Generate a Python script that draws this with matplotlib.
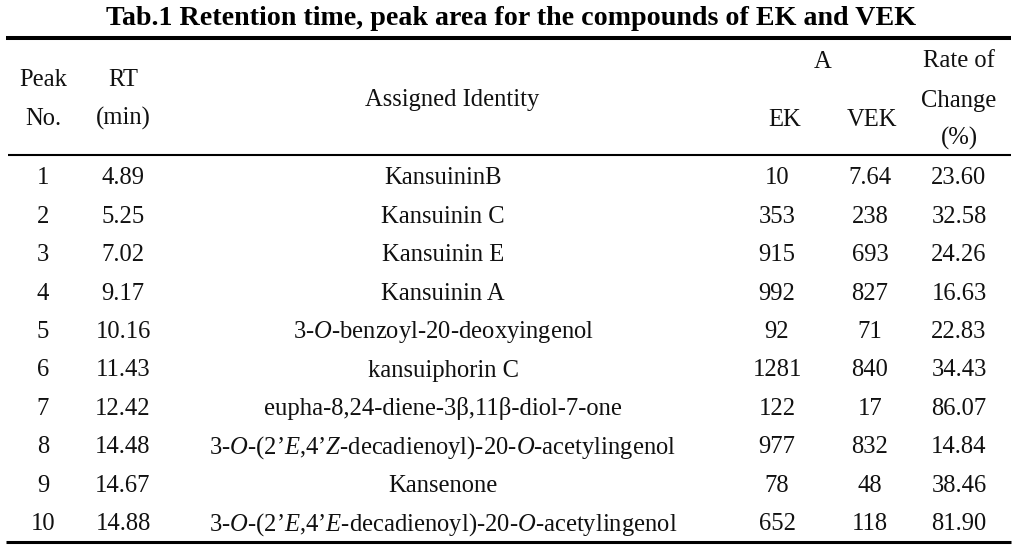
import matplotlib
matplotlib.use("Agg")
import matplotlib.pyplot as plt

plt.rcParams['font.family'] = ['Liberation Serif', 'DejaVu Serif']
plt.rcParams['mathtext.fontset'] = 'custom'
plt.rcParams['mathtext.rm'] = 'Liberation Serif'
plt.rcParams['mathtext.it'] = 'Liberation Serif:italic'

title = "Tab.1 Retention time, peak area for the compounds of EK and VEK"
peak_no = ["1", "2", "3", "4", "5", "6", "7", "8", "9", "10"]
rt = ["4.89", "5.25", "7.02", "9.17", "10.16", "11.43", "12.42", "14.48", "14.67", "14.88"]
identity = [
    "KansuininB",
    "Kansuinin C",
    "Kansuinin E",
    "Kansuinin A",
    r"3-$\mathit{O}$-benzoyl-20-deoxyingenol",
    "kansuiphorin C",
    "eupha-8,24-diene-3β,11β-diol-7-one",
    r"3-$\mathit{O}$-(2’$\mathit{E}$,4’$\mathit{Z}$-decadienoyl)-20-$\mathit{O}$-acetylingenol",
    "Kansenone",
    r"3-$\mathit{O}$-(2’$\mathit{E}$,4’$\mathit{E}$-decadienoyl)-20-$\mathit{O}$-acetylingenol",
]
area_ek = ["10", "353", "915", "992", "92", "1281", "122", "977", "78", "652"]
area_vek = ["7.64", "238", "693", "827", "71", "840", "17", "832", "48", "118"]
rate = ["23.60", "32.58", "24.26", "16.63", "22.83", "34.43", "86.07", "14.84", "38.46", "81.90"]

W, H = 1036, 552
fig = plt.figure(figsize=(W / 100, H / 100), dpi=100)
ax = fig.add_axes([0, 0, 1, 1])
ax.set_xlim(0, W)
ax.set_ylim(H, 0)
ax.axis('off')

# column centres (px) for body rows
col_x = [43, 123, 443, 777, 870, 959]
fs = 17.7
tc = '#111111'

ax.text(511.5, 25, title, ha='center', va='baseline', fontsize=20.2,
        fontweight='bold', color='black')

# rules
ax.plot([6, 1011], [38, 38], color='black', lw=2.9, solid_capstyle='butt')
ax.plot([8, 1011], [155, 155], color='black', lw=1.5, solid_capstyle='butt')
ax.plot([6, 1011], [542, 542], color='black', lw=2.2, solid_capstyle='butt')

# header
hdr = dict(ha='center', va='baseline', fontsize=fs, color=tc)
ax.text(col_x[0], 86.5, "Peak", **hdr)
ax.text(col_x[0], 125, "No.", **hdr)
ax.text(col_x[1], 86.5, "RT", **hdr)
ax.text(col_x[1], 125, "(min)", **hdr)
ax.text(452, 106, "Assigned Identity", **hdr)
ax.text(823, 68, "A", **hdr)
ax.text(785, 126, "EK", **hdr)
ax.text(872, 126, "VEK", **hdr)
ax.text(col_x[5], 67, "Rate of", **hdr)
ax.text(col_x[5], 106.5, "Change", **hdr)
ax.text(col_x[5], 145, "(%)", **hdr)

# body
row_y0, row_dy = 184.5, 38.4
cols = [peak_no, rt, identity, area_ek, area_vek, rate]
for i in range(len(peak_no)):
    y = row_y0 + i * row_dy
    for x, col in zip(col_x, cols):
        ax.text(x, y, col[i], ha='center', va='baseline', fontsize=fs, color=tc)

fig.savefig("out.png", dpi=100)
